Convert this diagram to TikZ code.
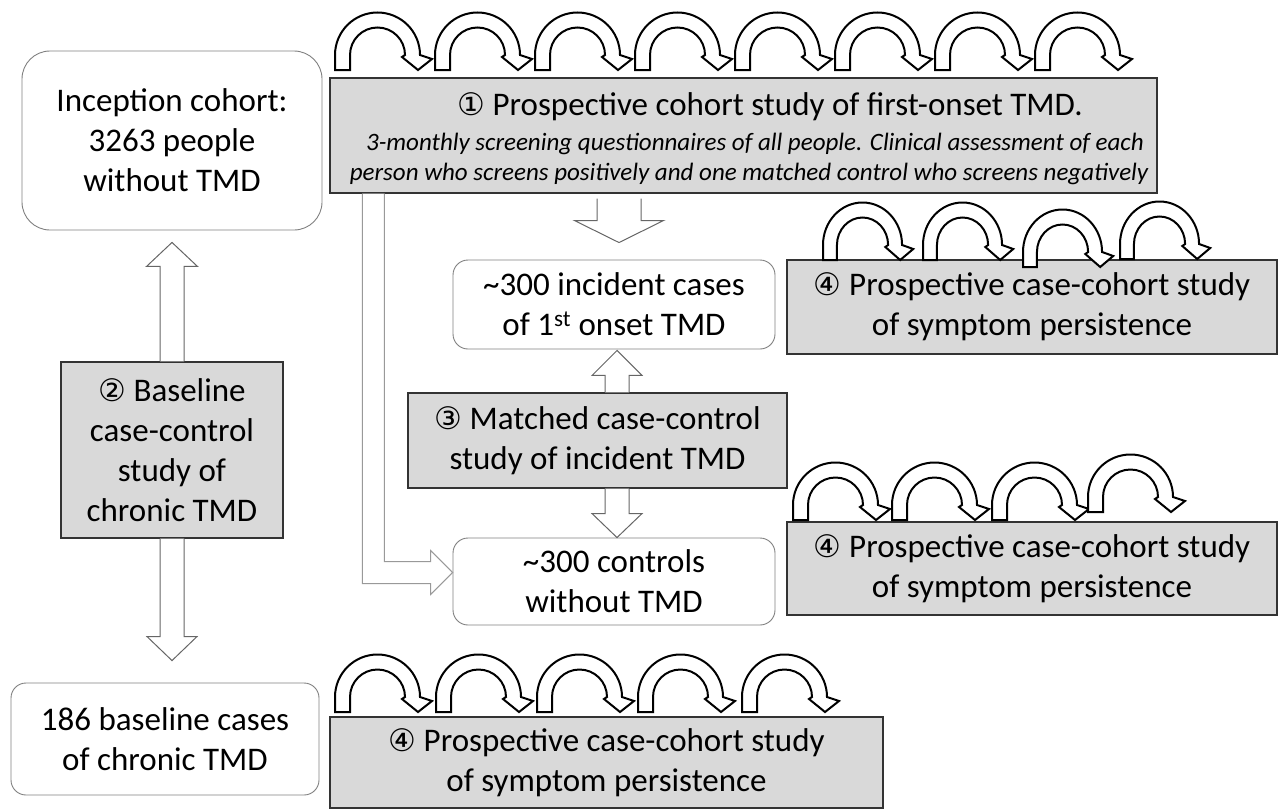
\documentclass[tikz,border=0pt]{standalone}
\usepackage{fontspec}
\setmainfont{Carlito}
\newfontfamily\dejavu{DejaVu Sans}
\usetikzlibrary{calc}
\definecolor{boxgrey}{HTML}{D9D9D9}
\newcommand\cnum[1]{{\dejavu\fontsize{31}{31}\selectfont #1}}
\newcommand\vblock[5]{%
  \path[fill=white] let \p1=#1, \p2=#2, \n1={\y2-(#5pt)} in
    ({\x1-#3pt},\y1) -- ({\x1-#3pt},\n1) -- ({\x1-#4pt},\n1) -- (\x1,\y2)
    -- ({\x1+#4pt},\n1) -- ({\x1+#3pt},\n1) -- ({\x1+#3pt},\y1) -- cycle;
  \path[blockarr] let \p1=#1, \p2=#2, \n1={\y2-(#5pt)} in
    ({\x1-#3pt},\y1) -- ({\x1-#3pt},\n1) -- ({\x1-#4pt},\n1) -- (\x1,\y2)
    -- ({\x1+#4pt},\n1) -- ({\x1+#3pt},\n1) -- ({\x1+#3pt},\y1);
}
\tikzset{
  greybox/.style={draw=black!80, fill=boxgrey, line width=1.3pt, inner sep=0pt,
    align=center, font=\fontsize{33}{40}\selectfont},
  roundbox/.style={draw=black!50, fill=white, line width=0.9pt, rounded corners=15pt,
    inner sep=0pt, align=center, font=\fontsize{33}{40}\selectfont},
  blockarr/.style={draw=black!60, line width=1pt, line join=miter},
  carrowline/.style={draw=black, fill=white, line width=2pt, line join=miter},
  carrow/.pic={\path[carrowline] (0,0) -- (0,15)
      arc[start angle=180,end angle=0,radius=42.5] -- (97,11) -- (83,0) -- (67,13) -- (70,15)
      arc[start angle=0,end angle=180,radius=27.5] -- (15,0) -- cycle;}
}
\begin{document}
\begin{tikzpicture}[x=1pt,y=1pt]
\useasboundingbox (0,0) rectangle (1281,-811);

% rounded boxes
\node[roundbox, rounded corners=28pt, minimum width=300pt, minimum height=179pt] (inc0) at (172,-140.5)
  {Inception cohort:\\3263 people\\without TMD};
\node[roundbox, minimum width=322pt, minimum height=89pt] (inc) at (614,-304.5)
  {\textasciitilde300 incident cases\\of 1\textsuperscript{st} onset TMD};
\node[roundbox, minimum width=322pt, minimum height=87pt] (ctl) at (614,-581.5)
  {\textasciitilde300 controls\\without TMD};
\node[roundbox, minimum width=308pt, minimum height=112pt] (base) at (165,-739)
  {186 baseline cases\\of chronic TMD};

% grey boxes
\node[greybox, minimum width=827pt, minimum height=115pt] (p1) at (743.5,-135.5) {};
\node[anchor=base, font=\fontsize{33}{40}\selectfont] (p1t) at (770,-115)
  {\cnum{①} Prospective cohort study of first-onset TMD.};
\node[anchor=base, font=\fontsize{25}{30}\selectfont\itshape] (p1s1) at (755,-150)
  {3-monthly screening questionnaires of all people. Clinical assessment of each};
\node[anchor=base, font=\fontsize{25}{30}\selectfont\itshape] (p1s2) at (749,-180)
  {person who screens positively and one matched control who screens negatively};

\node[greybox, minimum width=222pt, minimum height=176pt] (b2) at (172,-450)
  {\cnum{②} Baseline\\case-control\\study of\\chronic TMD};
\node[greybox, minimum width=379pt, minimum height=95pt] (b3) at (597.5,-440.5)
  {\cnum{③} Matched case-control\\study of incident TMD};
\node[greybox, minimum width=490pt, minimum height=94pt] (r1) at (1032,-307)
  {\cnum{④} Prospective case-cohort study\\of symptom persistence};
\node[greybox, minimum width=490pt, minimum height=93pt] (r2) at (1032,-568.5)
  {\cnum{④} Prospective case-cohort study\\of symptom persistence};
\node[greybox, minimum width=553pt, minimum height=91pt] (r3) at (606.5,-762.5)
  {\cnum{④} Prospective case-cohort study\\of symptom persistence};

% block arrows
\vblock{(b2.north)}{($(inc0.south)+(0,-12)$)}{12}{25.5}{24}
\vblock{(b2.south)}{($(base.north)+(0,22)$)}{12}{25}{-24}
\vblock{($(inc.north |- p1.south)+(5,-5)$)}{($(inc.north)+(5,17)$)}{22}{44.5}{-22}
\vblock{($(inc.south |- b3.north)+(3,0)$)}{($(inc.south)+(3,-1)$)}{12}{25}{25}
\vblock{($(ctl.north |- b3.south)+(3,0)$)}{($(ctl.north)+(3,0)$)}{12}{25}{-24}

% L-shaped arrow from study 1 to controls
\path[fill=white] let \p1=($(p1.south west)+(44,0)$), \p2=($(ctl.west)+(0,9)$) in
  ({\x1-11pt},\y1) -- ({\x1-11pt},{\y2-11pt}) -- ({\x2-22pt},{\y2-11pt}) -- ({\x2-22pt},{\y2-22pt}) -- (\x2,\y2)
  -- ({\x2-22pt},{\y2+22pt}) -- ({\x2-22pt},{\y2+11pt}) -- ({\x1+11pt},{\y2+11pt}) -- ({\x1+11pt},\y1) -- cycle;
\path[blockarr, draw=black!40] let \p1=($(p1.south west)+(44,0)$), \p2=($(ctl.west)+(0,9)$) in
  ({\x1-11pt},\y1) -- ({\x1-11pt},{\y2-11pt}) -- ({\x2-22pt},{\y2-11pt}) -- ({\x2-22pt},{\y2-22pt}) -- (\x2,\y2)
  -- ({\x2-22pt},{\y2+22pt}) -- ({\x2-22pt},{\y2+11pt}) -- ({\x1+11pt},{\y2+11pt}) -- ({\x1+11pt},\y1);

% curved arrows
\foreach \xx in {335,435,535,635,735,835,935,1035} \pic at (\xx,-70) {carrow};
\foreach \xx in {335,436,537,638,742} \pic at (\xx,-712) {carrow};
\pic[xscale=0.93] at (823,-260) {carrow};
\pic[xscale=0.93] at (923,-260) {carrow};
\pic[xscale=0.93] at (1023,-267) {carrow};
\pic[xscale=0.93] at (1120,-259) {carrow};
\foreach \xx/\yy in {793/520,892/520,992/520,1088/512} \pic at (\xx,-\yy) {carrow};
\end{tikzpicture}
\end{document}
